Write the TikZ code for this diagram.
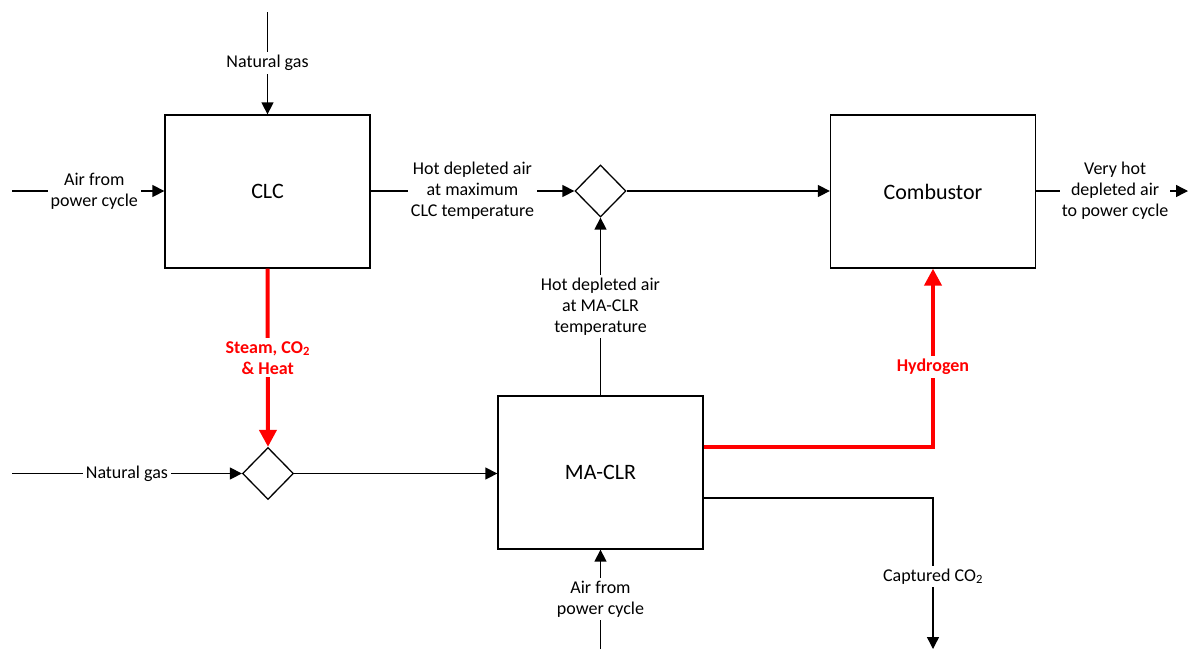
\documentclass[tikz,border=0pt]{standalone}
\usepackage{fontspec}
\setmainfont{Carlito}
\usetikzlibrary{arrows.meta,shapes.geometric}

\tikzset{
unitbox/.style={draw, line width=1.3pt, minimum width=205pt, minimum height=153pt, inner sep=0pt, font=\fontsize{22}{26}\selectfont},
mixer/.style={draw, diamond, line width=1.3pt, minimum width=51pt, minimum height=52pt, inner sep=0pt},
flow/.style={line width=1.4pt, -{Triangle[length=12pt,width=12pt]}},
hotflow/.style={draw=red, line width=4pt, -{Triangle[length=17pt,width=17pt]}},
flowlbl/.style={fill=white, inner sep=3pt, align=center, font=\fontsize{18}{21}\selectfont},
hotlbl/.style={flowlbl, text=red, font=\fontsize{18}{21}\selectfont\bfseries}
}

\begin{document}
\begin{tikzpicture}[x=1pt,y=-1pt]
\useasboundingbox (0,0) rectangle (1189,649);

% units
\node [unitbox] (clc) at (267.5,191.5) {CLC};
\node [unitbox] (comb) at (933,191.5) {Combustor};
\node [unitbox] (maclr) at (600.5,472.5) {MA-CLR};
\node [mixer] (mixA) at (600.5,191) {};
\node [mixer] (mixB) at (268,473.5) {};

% free ends
\coordinate (ngtop) at (267.5,12);
\coordinate (airleft) at (12,191);
\coordinate (outright) at (1188,191);
\coordinate (ngleft) at (12,473.5);
\coordinate (airbot) at (600.5,649);
\coordinate (h2bend) at (933,447);
\coordinate (co2bend) at (933,498);
\coordinate (co2end) at (933,649);

\draw [flow] (ngtop) -- node [flowlbl] {Natural gas} (clc.north);
\draw [flow] (airleft) -- node [flowlbl, pos=0.54] {Air from\\power cycle} (airleft -| clc.west);
\draw [flow] (clc.east |- mixA) -- node [flowlbl] {Hot depleted air\\at maximum\\CLC temperature} (mixA.west);
\draw [flow] (mixA.east) -- (mixA -| comb.west);
\draw [flow] (outright -| comb.east) -- node [flowlbl, pos=0.52, inner sep=2pt] {Very hot\\depleted air\\to power cycle} (outright);
\draw [flow] (maclr.north) -- node [flowlbl] {Hot depleted air\\at MA-CLR\\temperature} (mixA.south);
\draw [hotflow] (clc.south) -- node [hotlbl] {Steam, CO\textsubscript{2}\\\& Heat} (mixB.north);
\draw [flow] (ngleft) -- node [flowlbl] {Natural gas} (mixB.west);
\draw [flow] (mixB.east) -- (mixB -| maclr.west);
\draw [hotflow] (maclr.east |- h2bend) -- (h2bend) -- node [hotlbl, pos=0.45] {Hydrogen} (comb.south);
\draw [flow] (maclr.east |- co2bend) -- (co2bend) -- node [flowlbl, pos=0.52] {Captured CO\textsubscript{2}} (co2end);
\draw [flow] (airbot) -- node [flowlbl] {Air from\\power cycle} (maclr.south);

\end{tikzpicture}
\end{document}
